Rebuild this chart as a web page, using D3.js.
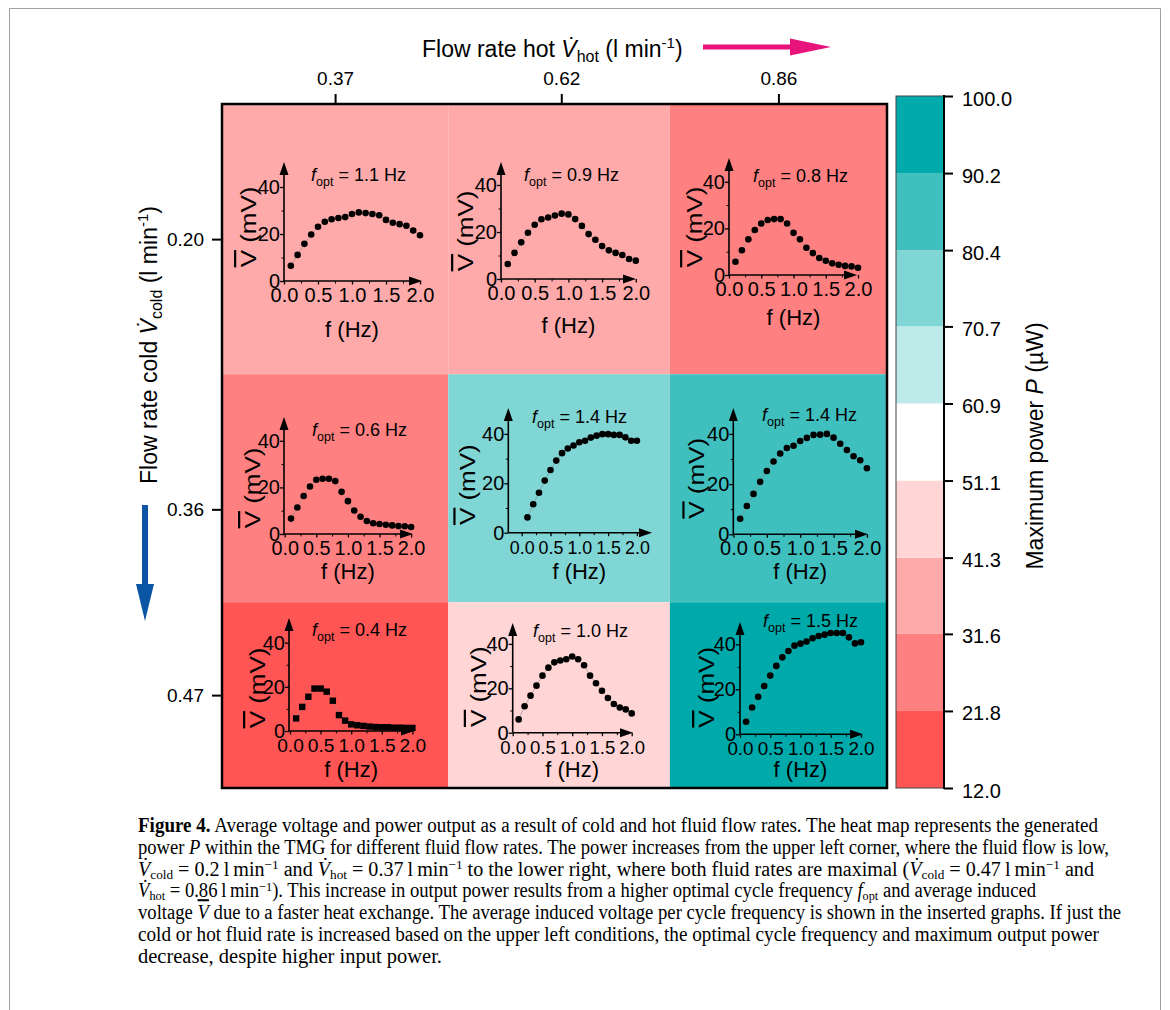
<!DOCTYPE html>
<html><head><meta charset="utf-8">
<script src="https://cdn.jsdelivr.net/npm/d3@7"></script>
<style>
body{margin:0;background:#fff}
svg{display:block}
text{font-family:"Liberation Sans",Arial,sans-serif;fill:#000}
</style>
</head><body>
<svg id="chart" width="1170" height="1010"></svg>
<script>
// ---------------- DATA ----------------
const hotFlow = [0.37, 0.62, 0.86];
const coldFlow = [0.20, 0.36, 0.47];
const hotTickLabels = ["0.37", "0.62", "0.86"];
const coldTickLabels = ["0.20", "0.36", "0.47"];
const powerCold020 = [36.5, 35.0, 27.0];
const powerCold036 = [25.5, 76.0, 86.0];
const powerCold047 = [12.0, 46.5, 100.0];
const powerLevels = [12.0, 21.8, 31.6, 41.3, 51.1, 60.9, 70.7, 80.4, 90.2, 100.0];
const fOptCold020 = [1.1, 0.9, 0.8];
const fOptCold036 = [0.6, 1.4, 1.4];
const fOptCold047 = [0.4, 1.0, 1.5];
const frequency = [0.1,0.2,0.3,0.4,0.5,0.6,0.7,0.8,0.9,1.0,1.1,1.2,1.3,1.4,1.5,1.6,1.7,1.8,1.9,2.0];
const insetYTicks = [0, 20, 40];
const insetXTicks = [0, 0.5, 1.0, 1.5, 2.0];
const v_c020_h037 = [6.5,11.1,15.8,19.8,23.1,25.2,26.3,26.8,27.2,28.5,29.2,28.9,28.5,28.0,26.0,24.8,24.2,23.5,21.5,19.5];
const v_c020_h062 = [6.4,11.1,15.6,19.7,23.1,25.4,26.2,27.0,27.8,27.5,25.5,22.6,19.1,16.7,14.0,12.2,11.1,10.2,8.5,7.8];
const v_c020_h086 = [5.7,10.6,15.3,19.3,22.1,23.6,24.0,24.0,22.1,18.1,15.3,11.7,9.4,7.3,6.1,5.0,4.4,3.9,3.7,3.1];
const v_c036_h037 = [6.6,11.4,16.3,20.4,23.3,23.7,23.7,22.7,18.1,14.1,10.1,7.4,5.6,4.6,4.3,4.0,3.7,3.4,3.3,3.0];
const v_c036_h062 = [6.2,11.5,16.2,21.1,25.4,29.2,32.2,34.1,35.3,36.6,37.2,38.5,39.3,39.9,39.9,39.6,39.6,38.6,37.2,37.2];
const v_c036_h086 = [6.2,11.3,16.1,20.9,25.2,29.0,32.2,34.4,35.3,37.2,38.4,39.6,39.7,40.0,38.5,36.1,33.6,31.1,29.5,26.3];
const v_c047_h037 = [5.7,10.9,15.5,19.2,19.2,17.8,13.7,7.2,4.7,3.0,2.6,2.3,2.0,1.8,1.7,1.7,1.5,1.5,1.4,1.4];
const v_c047_h062 = [6.0,11.9,16.7,21.2,25.7,29.3,31.7,32.5,33.1,34.3,33.1,30.4,25.7,22.3,18.9,15.6,12.9,11.3,10.5,8.7];
const v_c047_h086 = [5.6,11.9,16.7,21.5,26.1,30.4,34.2,37.0,39.4,40.3,41.2,42.7,43.7,44.3,45.0,45.0,45.0,43.1,40.4,40.9];

// ---------------- STYLE / LAYOUT ----------------
const bandColors = ["#FF5555","#FF8080","#FFAAAA","#FFD5D5","#FFFFFF","#BFEAEA","#80D5D5","#40BFBF","#00AAAA"];
const power = [powerCold020, powerCold036, powerCold047];
const fOpt = [fOptCold020, fOptCold036, fOptCold047];
const voltages = [[v_c020_h037, v_c020_h062, v_c020_h086],[v_c036_h037, v_c036_h062, v_c036_h086],[v_c047_h037, v_c047_h062, v_c047_h086]];
// inset placement (pixels)
const insetLayout = [
 {ox:284,   oy:281,   kx:68,   ky:2.35, ax:284,   yTop:162, xEnd:422, tx:311, ty:181, xl:56, yl:-54, yx:-36},
 {ox:501,   oy:279,   kx:67.4, ky:2.35, ax:501,   yTop:162, xEnd:636, tx:524, ty:181, xl:54, yl:-48, yx:-36},
 {ox:729,   oy:275,   kx:64.5, ky:2.33, ax:729,   yTop:158, xEnd:857, tx:753, ty:182, xl:50, yl:-48, yx:-35},
 {ox:284.7, oy:534,   kx:63.2, ky:2.33, ax:284,   yTop:417, xEnd:413, tx:312, ty:436, xl:45, yl:-46, yx:-32},
 {ox:521.7, oy:532.7, kx:57.6, ky:2.47, ax:508.3, yTop:408, xEnd:652, tx:532, ty:423, xl:46.6, yl:-48, yx:-41},
 {ox:733.5, oy:534.3, kx:66.7, ky:2.51, ax:733.3, yTop:408, xEnd:868, tx:762, ty:421, xl:45, yl:-56, yx:-37},
 {ox:290,   oy:731,   kx:61.2, ky:2.21, ax:289,   yTop:618, xEnd:414, tx:312, ty:636, xl:45.7, yl:-43, yx:-32},
 {ox:512.7, oy:732.7, kx:59.5, ky:2.22, ax:512.7, yTop:623, xEnd:633, tx:533, ty:637, xl:44, yl:-46, yx:-35},
 {ox:740,   oy:734.3, kx:60.5, ky:2.25, ax:740,   yTop:622, xEnd:863, tx:763, ty:627, xl:42.4, yl:-47, yx:-34}
];
const squareInset = 6;

const svg = d3.select("#chart");

// outer frame of figure
svg.append("path").attr("d","M9.5,1010 V8.5 H1160.5 V1010").attr("fill","none").attr("stroke","#a0a0a0").attr("stroke-width",1);

// ---------------- HEATMAP ----------------
const hotDomain = [hotFlow[0]-(hotFlow[1]-hotFlow[0])/2, hotFlow[2]+(hotFlow[2]-hotFlow[1])/2];
const coldDomain = [coldFlow[0]-(coldFlow[1]-coldFlow[0])/2, coldFlow[2]+(coldFlow[2]-coldFlow[1])/2];
const xH = d3.scaleLinear().domain(hotDomain).range([222, 887]);
const yH = d3.scaleLinear().domain(coldDomain).range([104, 788]);
const hotEdges = [hotDomain[0], (hotFlow[0]+hotFlow[1])/2, (hotFlow[1]+hotFlow[2])/2, hotDomain[1]];
const coldEdges = [coldDomain[0], (coldFlow[0]+coldFlow[1])/2, (coldFlow[1]+coldFlow[2])/2, coldDomain[1]];
const color = d3.scaleThreshold().domain(powerLevels.slice(1, -1)).range(bandColors);

const cells = [];
power.forEach((row, r) => row.forEach((p, c) => cells.push({r, c, p})));
svg.append("g").selectAll("rect").data(cells).join("rect")
  .attr("x", d => xH(hotEdges[d.c]))
  .attr("y", d => yH(coldEdges[d.r]))
  .attr("width", d => xH(hotEdges[d.c+1]) - xH(hotEdges[d.c]))
  .attr("height", d => yH(coldEdges[d.r+1]) - yH(coldEdges[d.r]))
  .attr("fill", d => color(d.p));

svg.append("rect").attr("x",222).attr("y",104).attr("width",665).attr("height",684)
  .attr("fill","none").attr("stroke","#000").attr("stroke-width",2.5);

// top axis
const topAxis = d3.axisTop(xH).tickValues(hotFlow).tickFormat((d,i)=>hotTickLabels[i]).tickSize(10).tickPadding(9).tickSizeOuter(0);
const gTop = svg.append("g").attr("transform","translate(0,104)").call(topAxis);
gTop.select(".domain").remove();
gTop.selectAll("line").attr("stroke-width",2);
gTop.selectAll("text").attr("font-size",19).attr("font-family","Liberation Sans");

const leftAxis = d3.axisLeft(yH).tickValues(coldFlow).tickFormat((d,i)=>coldTickLabels[i]).tickSize(10).tickPadding(8).tickSizeOuter(0);
const gLeft = svg.append("g").attr("transform","translate(222,0)").call(leftAxis);
gLeft.select(".domain").remove();
gLeft.selectAll("line").attr("stroke-width",2);
gLeft.selectAll("text").attr("font-size",19).attr("font-family","Liberation Sans");

// axis titles
function flowTitle(sel, sub) {
  sel.append("tspan").text("Flow rate " + (sub==="hot"?"hot":"cold") + " ");
  sel.append("tspan").attr("font-style","italic").text("V\u0307");
  sel.append("tspan").attr("font-size",16).attr("dy",5).text(sub);
  sel.append("tspan").attr("dy",-5).text(" (l min");
  sel.append("tspan").attr("font-size",15).attr("dy",-9).text("-1");
  sel.append("tspan").attr("dy",9).text(")");
}
const tTop = svg.append("text").attr("x",422).attr("y",57).attr("font-size",23);
flowTitle(tTop, "hot");
const tLeft = svg.append("text").attr("transform","translate(157,345) rotate(-90)").attr("text-anchor","middle").attr("font-size",23);
flowTitle(tLeft, "cold");

// arrows
svg.append("line").attr("x1",703).attr("y1",47).attr("x2",795).attr("y2",47).attr("stroke","#E8137B").attr("stroke-width",5);
svg.append("polygon").attr("points","790,38.5 831,47 790,55.5").attr("fill","#E8137B");
svg.append("line").attr("x1",145).attr("y1",505).attr("x2",145).attr("y2",590).attr("stroke","#0C55A5").attr("stroke-width",6);
svg.append("polygon").attr("points","136,584 145,621 154,584").attr("fill","#0C55A5");

// ---------------- COLORBAR ----------------
const yC = d3.scaleLinear().domain([powerLevels[0], powerLevels[powerLevels.length-1]]).range([788, 96]);
const bands = d3.pairs(powerLevels).map((p,i)=>({lo:p[0], hi:p[1], i}));
svg.append("g").selectAll("rect").data(bands).join("rect")
  .attr("x",896).attr("width",48)
  .attr("y", d => yC(d.hi)).attr("height", d => yC(d.lo) - yC(d.hi))
  .attr("fill", d => bandColors[d.i]);
svg.append("rect").attr("x",896).attr("y",96).attr("width",48).attr("height",692).attr("fill","none").attr("stroke","#444").attr("stroke-width",1);
svg.append("line").attr("x1",944).attr("x2",944).attr("y1",95).attr("y2",789).attr("stroke","#000").attr("stroke-width",2);
const cAxis = d3.axisRight(yC).tickValues(powerLevels).tickFormat(d3.format(".1f")).tickSize(9).tickPadding(9).tickSizeOuter(0);
const gC = svg.append("g").attr("transform","translate(944,0)").call(cAxis);
gC.select(".domain").remove();
gC.selectAll("line").attr("stroke-width",2);
gC.selectAll("text").attr("font-size",20).attr("font-family","Liberation Sans").attr("dy","0.45em");
const cTitle = svg.append("text").attr("transform","translate(1043,446) rotate(-90)").attr("text-anchor","middle").attr("font-size",23);
cTitle.append("tspan").text("Maximum power ");
cTitle.append("tspan").attr("font-style","italic").text("P");
cTitle.append("tspan").text(" (\u00B5W)");

// ---------------- INSETS ----------------
const line = d3.line();
let k = 0;
for (let r = 0; r < 3; r++) {
  for (let c = 0; c < 3; c++) {
    const L = insetLayout[k];
    const vals = voltages[r][c];
    const x = d3.scaleLinear().domain([0, 2]).range([L.ox, L.ox + 2*L.kx]);
    const y = d3.scaleLinear().domain([0, 40]).range([L.oy, L.oy - 40*L.ky]);
    const tickFont = Math.min(20, (L.kx/2 - 4)/1.39);
    const g = svg.append("g");
    // axis lines with arrow heads
    g.append("line").attr("x1",L.ax).attr("y1",L.oy).attr("x2",L.ax).attr("y2",L.yTop+8).attr("stroke","#000").attr("stroke-width",1.6);
    g.append("polygon").attr("points",`${L.ax-4.5},${L.yTop+13} ${L.ax},${L.yTop} ${L.ax+4.5},${L.yTop+13}`).attr("fill","#000");
    g.append("line").attr("x1",L.ax).attr("y1",L.oy).attr("x2",L.xEnd-8).attr("y2",L.oy).attr("stroke","#000").attr("stroke-width",1.6);
    g.append("polygon").attr("points",`${L.xEnd-13},${L.oy-4.5} ${L.xEnd},${L.oy} ${L.xEnd-13},${L.oy+4.5}`).attr("fill","#000");
    // y ticks
    const ya = d3.axisLeft(y).tickValues(insetYTicks).tickSize(4).tickPadding(0).tickSizeOuter(0);
    const gy = g.append("g").attr("transform",`translate(${L.ax},0)`).call(ya);
    gy.select(".domain").remove();
    gy.selectAll("line").attr("stroke-width",1.3);
    gy.selectAll("text").attr("font-size",20).attr("font-family","Liberation Sans");
    const ym = d3.axisLeft(y).tickValues([10, 30]).tickSize(2.5).tickFormat("").tickSizeOuter(0);
    const gym = g.append("g").attr("transform",`translate(${L.ax},0)`).call(ym);
    gym.select(".domain").remove();
    // x ticks
    const xa = d3.axisBottom(x).tickValues(insetXTicks).tickFormat(d3.format(".1f")).tickSize(3.5).tickPadding(3.5 + (20 - tickFont)*0.7).tickSizeOuter(0);
    const gx = g.append("g").attr("transform",`translate(0,${L.oy})`).call(xa);
    gx.select(".domain").remove();
    gx.selectAll("line").attr("stroke-width",1.3);
    gx.selectAll("text").attr("font-size",tickFont).attr("font-family","Liberation Sans");
    const xm = d3.axisBottom(x).tickValues([0.25,0.75,1.25,1.75]).tickSize(2.5).tickFormat("").tickSizeOuter(0);
    const gxm = g.append("g").attr("transform",`translate(0,${L.oy})`).call(xm);
    gxm.select(".domain").remove();
    // connecting line
    const pts = frequency.map((f, j) => [x(f), y(vals[j])]);
    g.append("path").attr("d", line(pts)).attr("fill","none").attr("stroke","#8a8a8a").attr("stroke-width",0.8).attr("opacity",0.7);
    // markers
    if (k === squareInset) {
      g.selectAll("rect.m").data(pts).join("rect").attr("class","m")
        .attr("x", d => d[0]-3.2).attr("y", d => d[1]-3.2).attr("width",6.4).attr("height",6.4).attr("fill","#000");
    } else {
      g.selectAll("circle").data(pts).join("circle")
        .attr("cx", d => d[0]).attr("cy", d => d[1]).attr("r",3.3).attr("fill","#000");
    }
    // f_opt label
    const t = g.append("text").attr("x",L.tx).attr("y",L.ty).attr("font-size",18);
    t.append("tspan").attr("font-style","italic").text("f");
    t.append("tspan").attr("font-size",12.5).attr("dy",5).text("opt");
    t.append("tspan").attr("dy",-5).text(" = " + d3.format(".1f")(fOpt[r][c]) + " Hz");
    // x label
    g.append("text").attr("x", x(1.0)).attr("y", L.oy + L.xl).attr("text-anchor","middle").attr("font-size",22).text("f (Hz)");
    // y label
    const yt = g.append("text").attr("transform",`translate(${L.ax + L.yx},${L.oy + L.yl}) rotate(-90) scale(1.18,1)`)
      .attr("text-anchor","middle").attr("y",8).attr("font-size",22);
    yt.append("tspan").style("text-decoration","overline").text("V");
    yt.append("tspan").text(" (mV)");
    k++;
  }
}

// ---------------- CAPTION ----------------
const captionLines = [
 [["Figure 4.","b"],[" Average voltage and power output as a result of cold and hot fluid flow rates. The heat map represents the generated",""]],
 [["power ",""],["P","i"],[" within the TMG for different fluid flow rates. The power increases from the upper left corner, where the fluid flow is low,",""]],
 [["V\u0307","i"],["cold","sub"],[" = 0.2\u2009l\u2009min",""],["\u22121","sup"],[" and ",""],["V\u0307","i"],["hot","sub"],[" = 0.37\u2009l\u2009min",""],["\u22121","sup"],[" to the lower right, where both fluid rates are maximal (",""],["V\u0307","i"],["cold","sub"],[" = 0.47\u2009l\u2009min",""],["\u22121","sup"],[" and",""]],
 [["V\u0307","i"],["hot","sub"],[" = 0.86\u2009l\u2009min",""],["\u22121","sup"],["). This increase in output power results from a higher optimal cycle frequency ",""],["f","i"],["opt","sub"],[" and average induced",""]],
 [["voltage ",""],["V","ov"],[" due to a faster heat exchange. The average induced voltage per cycle frequency is shown in the inserted graphs. If just the",""]],
 [["cold or hot fluid rate is increased based on the upper left conditions, the optimal cycle frequency and maximum output power",""]],
 [["decrease, despite higher input power.",""]]
];
const captionWidths = [960, 971, 956, 898, 983, 961, null];
captionLines.forEach((segs, i) => {
  const t = svg.append("text").attr("x",138).attr("y",832 + i*21.8)
    .style("font-family","'Liberation Serif','Times New Roman',serif").attr("font-size",20.5);
  if (captionWidths[i]) t.attr("textLength", captionWidths[i]).attr("lengthAdjust","spacingAndGlyphs");
  let off = 0;
  segs.forEach(([txt, st]) => {
    const target = st === "sub" ? 3 : st === "sup" ? -6.5 : 0;
    const ts = t.append("tspan").text(txt);
    if (target !== off) { ts.attr("dy", target - off); off = target; }
    if (st === "b") ts.attr("font-weight","bold");
    if (st === "i") ts.attr("font-style","italic");
    if (st === "ov") ts.attr("font-style","italic").style("text-decoration","overline");
    if (st === "sub" || st === "sup") ts.attr("font-size",13.5);
  });
});
</script>
</body></html>
